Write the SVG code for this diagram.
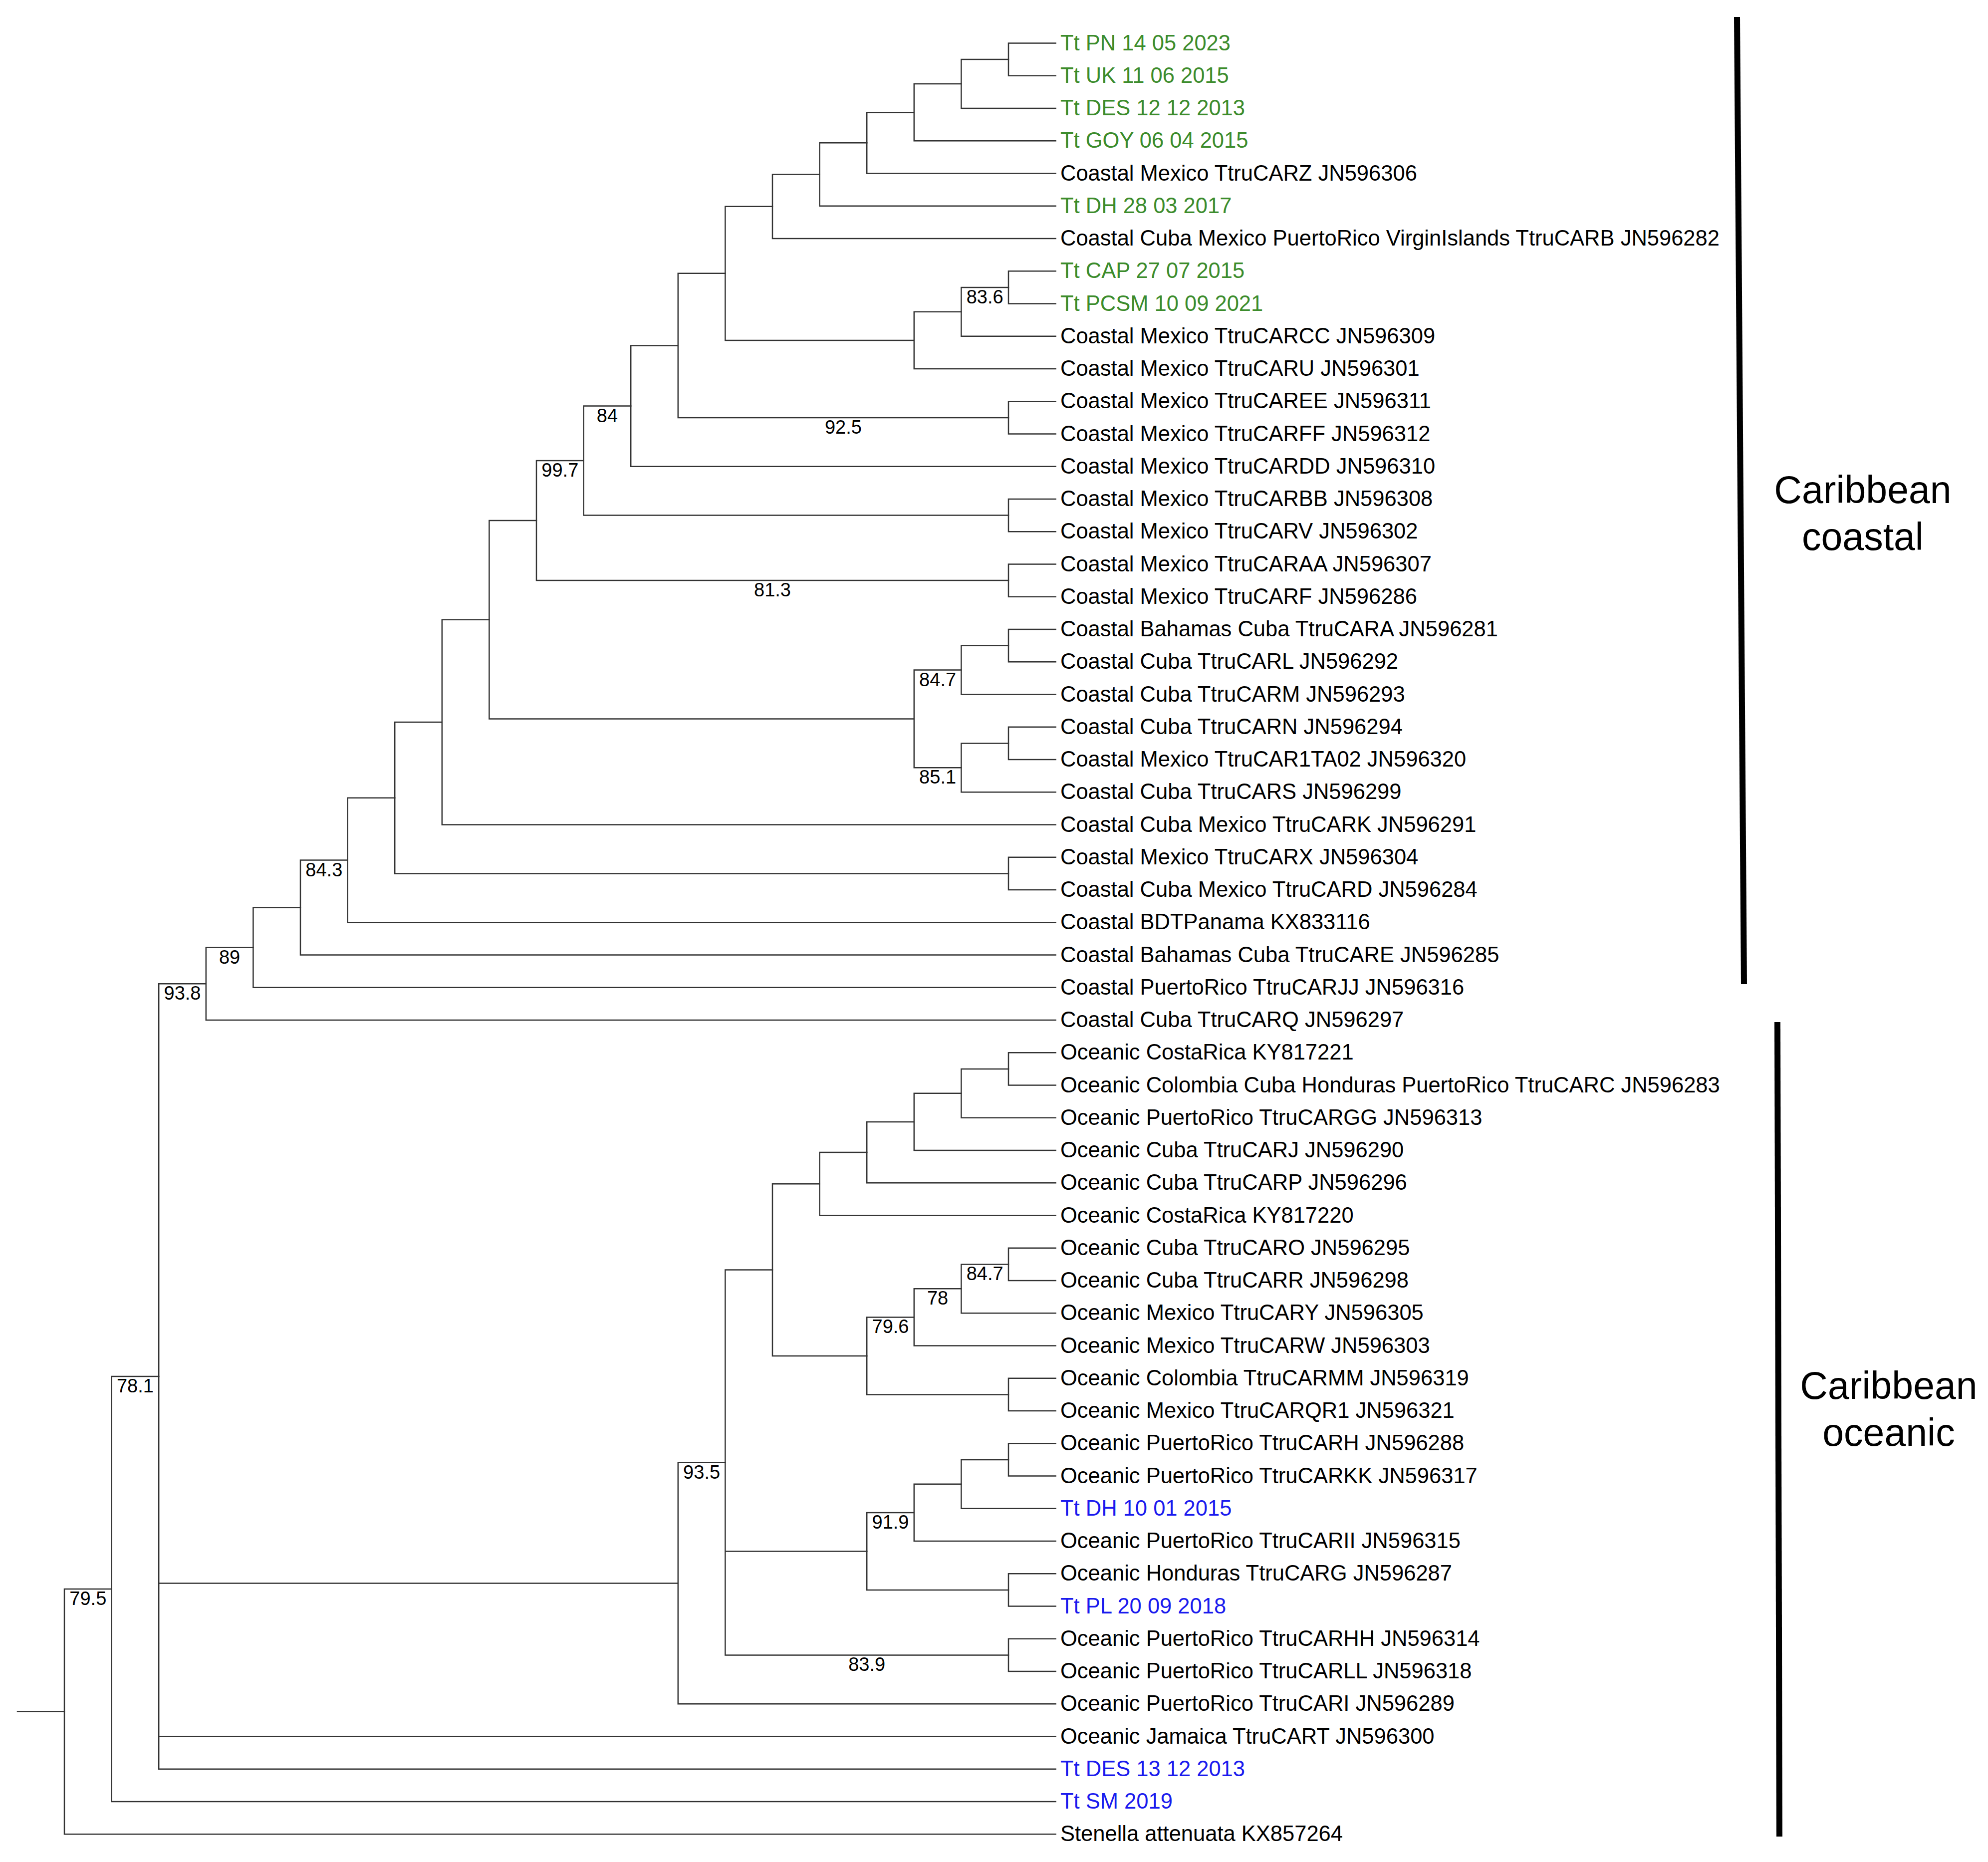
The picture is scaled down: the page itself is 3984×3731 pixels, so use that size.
<svg xmlns="http://www.w3.org/2000/svg" width="3984" height="3731" viewBox="0 0 3984 3731">
<style>
.br{fill:none;stroke:#333;stroke-width:2.5;stroke-linecap:square}
.lf{font-family:"Liberation Sans",Arial,sans-serif;font-size:43.5px;fill:#000}
.g{fill:#3c8c2c}
.b{fill:#1a1aee}
.sp{font-family:"Liberation Sans",Arial,sans-serif;font-size:38px;fill:#000;text-anchor:middle}
.bar{stroke:#000;stroke-width:12;fill:none}
.cl{font-family:"Liberation Sans",Arial,sans-serif;font-size:77px;fill:#000;text-anchor:middle}
</style>
<rect width="3984" height="3731" fill="#fff"/>
<g id="connectors" class="br">
<path id="root" d="M35 3429.6H129"/>
<path id="R3" d="M129 3184V3675.3M129 3184H223.6M129 3675.3H2115.6"/>
<path id="R2" d="M223.6 2758V3610M223.6 2758H318.2M223.6 3610H2115.6"/>
<path id="R1" d="M318.2 1971.3V3544.8M318.2 1971.3H412.8M318.2 3172.4H1358.8M318.2 3479.5H2115.6M318.2 3544.8H2115.6"/>
<path id="C12" d="M412.8 1898.6V2044M412.8 1898.6H507.4M412.8 2044H2115.6"/>
<path id="C11" d="M507.4 1818.5V1978.8M507.4 1818.5H602M507.4 1978.8H2115.6"/>
<path id="C10" d="M602 1723.5V1913.5M602 1723.5H696.6M602 1913.5H2115.6"/>
<path id="C9" d="M696.6 1598.8V1848.3M696.6 1598.8H791.2M696.6 1848.3H2115.6"/>
<path id="C8" d="M791.2 1447.1V1750.4M791.2 1447.1H885.8M791.2 1750.4H2021"/>
<path id="C7" d="M885.8 1241.8V1652.5M885.8 1241.8H980.4M885.8 1652.5H2115.6"/>
<path id="C6" d="M980.4 1043.1V1440.4M980.4 1043.1H1075M980.4 1440.4H1831.8"/>
<path id="C5" d="M1075 923.1V1163.1M1075 923.1H1169.6M1075 1163.1H2021"/>
<path id="C4" d="M1169.6 813.6V1032.6M1169.6 813.6H1264.2M1169.6 1032.6H2021"/>
<path id="C3" d="M1264.2 692.4V934.8M1264.2 692.4H1358.8M1264.2 934.8H2115.6"/>
<path id="C2" d="M1358.8 547.8V836.9M1358.8 547.8H1453.4M1358.8 836.9H2021"/>
<path id="C1" d="M1453.4 413.8V681.9M1453.4 413.8H1548M1453.4 681.9H1831.8"/>
<path id="A6" d="M1548 349.5V478M1548 349.5H1642.6M1548 478H2115.6"/>
<path id="A5" d="M1642.6 286.3V412.8M1642.6 286.3H1737.2M1642.6 412.8H2115.6"/>
<path id="A4" d="M1737.2 225.2V347.5M1737.2 225.2H1831.8M1737.2 347.5H2115.6"/>
<path id="A3" d="M1831.8 168.1V282.3M1831.8 168.1H1926.4M1831.8 282.3H2115.6"/>
<path id="A2" d="M1926.4 119.1V217M1926.4 119.1H2021M1926.4 217H2115.6"/>
<path id="A1" d="M2021 86.5V151.8M2021 86.5H2115.6M2021 151.8H2115.6"/>
<path id="B3" d="M1831.8 624.8V739M1831.8 624.8H1926.4M1831.8 739H2115.6"/>
<path id="B2" d="M1926.4 575.9V673.8M1926.4 575.9H2021M1926.4 673.8H2115.6"/>
<path id="B1" d="M2021 543.3V608.5M2021 543.3H2115.6M2021 608.5H2115.6"/>
<path id="D1" d="M2021 804.3V869.5M2021 804.3H2115.6M2021 869.5H2115.6"/>
<path id="E1" d="M2021 1000V1065.3M2021 1000H2115.6M2021 1065.3H2115.6"/>
<path id="F1" d="M2021 1130.5V1195.8M2021 1130.5H2115.6M2021 1195.8H2115.6"/>
<path id="G3" d="M1831.8 1342.6V1538.3M1831.8 1342.6H1926.4M1831.8 1538.3H1926.4"/>
<path id="G2" d="M1926.4 1293.6V1391.5M1926.4 1293.6H2021M1926.4 1391.5H2115.6"/>
<path id="G1" d="M2021 1261V1326.3M2021 1261H2115.6M2021 1326.3H2115.6"/>
<path id="H2" d="M1926.4 1489.4V1587.3M1926.4 1489.4H2021M1926.4 1587.3H2115.6"/>
<path id="H1" d="M2021 1456.8V1522M2021 1456.8H2115.6M2021 1522H2115.6"/>
<path id="I1" d="M2021 1717.8V1783M2021 1717.8H2115.6M2021 1783H2115.6"/>
<path id="O" d="M1358.8 2930.5V3414.3M1358.8 2930.5H1453.4M1358.8 3414.3H2115.6"/>
<path id="P" d="M1453.4 2544.6V3316.4M1453.4 2544.6H1548M1453.4 3108.4H1737.2M1453.4 3316.4H2021"/>
<path id="Q" d="M1548 2372.3V2716.9M1548 2372.3H1642.6M1548 2716.9H1737.2"/>
<path id="Q1" d="M1642.6 2309.1V2435.5M1642.6 2309.1H1737.2M1642.6 2435.5H2115.6"/>
<path id="Q1a" d="M1737.2 2247.9V2370.3M1737.2 2247.9H1831.8M1737.2 2370.3H2115.6"/>
<path id="Q1b" d="M1831.8 2190.8V2305M1831.8 2190.8H1926.4M1831.8 2305H2115.6"/>
<path id="Q1c" d="M1926.4 2141.9V2239.8M1926.4 2141.9H2021M1926.4 2239.8H2115.6"/>
<path id="Q1d" d="M2021 2109.3V2174.5M2021 2109.3H2115.6M2021 2174.5H2115.6"/>
<path id="Q2" d="M1737.2 2639.4V2794.4M1737.2 2639.4H1831.8M1737.2 2794.4H2021"/>
<path id="Q2a" d="M1831.8 2582.3V2696.5M1831.8 2582.3H1926.4M1831.8 2696.5H2115.6"/>
<path id="Q2a1" d="M1926.4 2533.4V2631.3M1926.4 2533.4H2021M1926.4 2631.3H2115.6"/>
<path id="X1" d="M2021 2500.8V2566M2021 2500.8H2115.6M2021 2566H2115.6"/>
<path id="X2" d="M2021 2761.8V2827M2021 2761.8H2115.6M2021 2827H2115.6"/>
<path id="S" d="M1737.2 3030.9V3185.9M1737.2 3030.9H1831.8M1737.2 3185.9H2021"/>
<path id="S1" d="M1831.8 2973.8V3088M1831.8 2973.8H1926.4M1831.8 3088H2115.6"/>
<path id="S1a" d="M1926.4 2924.9V3022.8M1926.4 2924.9H2021M1926.4 3022.8H2115.6"/>
<path id="X3" d="M2021 2892.3V2957.5M2021 2892.3H2115.6M2021 2957.5H2115.6"/>
<path id="X4" d="M2021 3153.3V3218.5M2021 3153.3H2115.6M2021 3218.5H2115.6"/>
<path id="T" d="M2021 3283.8V3349M2021 3283.8H2115.6M2021 3349H2115.6"/>
</g>
<g id="support-labels">
<g id="n-B1"><text class="sp" x="1973.7" y="607.9">83.6</text></g>
<g id="n-D1"><text class="sp" x="1689.9" y="868.9">92.5</text></g>
<g id="n-C3"><text class="sp" x="1216.9" y="845.6">84</text></g>
<g id="n-C4"><text class="sp" x="1122.3" y="955.1">99.7</text></g>
<g id="n-F1"><text class="sp" x="1548" y="1195.1">81.3</text></g>
<g id="n-G2"><text class="sp" x="1879.1" y="1374.6">84.7</text></g>
<g id="n-H2"><text class="sp" x="1879.1" y="1570.3">85.1</text></g>
<g id="n-C9"><text class="sp" x="649.3" y="1755.5">84.3</text></g>
<g id="n-C11"><text class="sp" x="460.1" y="1930.6">89</text></g>
<g id="n-C12"><text class="sp" x="365.5" y="2003.3">93.8</text></g>
<g id="n-R1"><text class="sp" x="270.9" y="2790">78.1</text></g>
<g id="n-R2"><text class="sp" x="176.3" y="3216">79.5</text></g>
<g id="n-P"><text class="sp" x="1406.1" y="2962.5">93.5</text></g>
<g id="n-Q2a"><text class="sp" x="1784.5" y="2671.4">79.6</text></g>
<g id="n-Q2a1"><text class="sp" x="1879.1" y="2614.3">78</text></g>
<g id="n-X1"><text class="sp" x="1973.7" y="2565.4">84.7</text></g>
<g id="n-S1"><text class="sp" x="1784.5" y="3062.9">91.9</text></g>
<g id="n-T"><text class="sp" x="1737.2" y="3348.4">83.9</text></g>
</g>
<g id="leaves">
<g id="leaf0"><text class="lf g" x="2125" y="100.5">Tt PN 14 05 2023</text></g>
<g id="leaf1"><text class="lf g" x="2125" y="165.75">Tt UK 11 06 2015</text></g>
<g id="leaf2"><text class="lf g" x="2125" y="231">Tt DES 12 12 2013</text></g>
<g id="leaf3"><text class="lf g" x="2125" y="296.25">Tt GOY 06 04 2015</text></g>
<g id="leaf4"><text class="lf" x="2125" y="361.5">Coastal Mexico TtruCARZ JN596306</text></g>
<g id="leaf5"><text class="lf g" x="2125" y="426.75">Tt DH 28 03 2017</text></g>
<g id="leaf6"><text class="lf" x="2125" y="492">Coastal Cuba Mexico PuertoRico VirginIslands TtruCARB JN596282</text></g>
<g id="leaf7"><text class="lf g" x="2125" y="557.25">Tt CAP 27 07 2015</text></g>
<g id="leaf8"><text class="lf g" x="2125" y="622.5">Tt PCSM 10 09 2021</text></g>
<g id="leaf9"><text class="lf" x="2125" y="687.75">Coastal Mexico TtruCARCC JN596309</text></g>
<g id="leaf10"><text class="lf" x="2125" y="753">Coastal Mexico TtruCARU JN596301</text></g>
<g id="leaf11"><text class="lf" x="2125" y="818.25">Coastal Mexico TtruCAREE JN596311</text></g>
<g id="leaf12"><text class="lf" x="2125" y="883.5">Coastal Mexico TtruCARFF JN596312</text></g>
<g id="leaf13"><text class="lf" x="2125" y="948.75">Coastal Mexico TtruCARDD JN596310</text></g>
<g id="leaf14"><text class="lf" x="2125" y="1014">Coastal Mexico TtruCARBB JN596308</text></g>
<g id="leaf15"><text class="lf" x="2125" y="1079.25">Coastal Mexico TtruCARV JN596302</text></g>
<g id="leaf16"><text class="lf" x="2125" y="1144.5">Coastal Mexico TtruCARAA JN596307</text></g>
<g id="leaf17"><text class="lf" x="2125" y="1209.75">Coastal Mexico TtruCARF JN596286</text></g>
<g id="leaf18"><text class="lf" x="2125" y="1275">Coastal Bahamas Cuba TtruCARA JN596281</text></g>
<g id="leaf19"><text class="lf" x="2125" y="1340.25">Coastal Cuba TtruCARL JN596292</text></g>
<g id="leaf20"><text class="lf" x="2125" y="1405.5">Coastal Cuba TtruCARM JN596293</text></g>
<g id="leaf21"><text class="lf" x="2125" y="1470.75">Coastal Cuba TtruCARN JN596294</text></g>
<g id="leaf22"><text class="lf" x="2125" y="1536">Coastal Mexico TtruCAR1TA02 JN596320</text></g>
<g id="leaf23"><text class="lf" x="2125" y="1601.25">Coastal Cuba TtruCARS JN596299</text></g>
<g id="leaf24"><text class="lf" x="2125" y="1666.5">Coastal Cuba Mexico TtruCARK JN596291</text></g>
<g id="leaf25"><text class="lf" x="2125" y="1731.75">Coastal Mexico TtruCARX JN596304</text></g>
<g id="leaf26"><text class="lf" x="2125" y="1797">Coastal Cuba Mexico TtruCARD JN596284</text></g>
<g id="leaf27"><text class="lf" x="2125" y="1862.25">Coastal BDTPanama KX833116</text></g>
<g id="leaf28"><text class="lf" x="2125" y="1927.5">Coastal Bahamas Cuba TtruCARE JN596285</text></g>
<g id="leaf29"><text class="lf" x="2125" y="1992.75">Coastal PuertoRico TtruCARJJ JN596316</text></g>
<g id="leaf30"><text class="lf" x="2125" y="2058">Coastal Cuba TtruCARQ JN596297</text></g>
<g id="leaf31"><text class="lf" x="2125" y="2123.25">Oceanic CostaRica KY817221</text></g>
<g id="leaf32"><text class="lf" x="2125" y="2188.5">Oceanic Colombia Cuba Honduras PuertoRico TtruCARC JN596283</text></g>
<g id="leaf33"><text class="lf" x="2125" y="2253.75">Oceanic PuertoRico TtruCARGG JN596313</text></g>
<g id="leaf34"><text class="lf" x="2125" y="2319">Oceanic Cuba TtruCARJ JN596290</text></g>
<g id="leaf35"><text class="lf" x="2125" y="2384.25">Oceanic Cuba TtruCARP JN596296</text></g>
<g id="leaf36"><text class="lf" x="2125" y="2449.5">Oceanic CostaRica KY817220</text></g>
<g id="leaf37"><text class="lf" x="2125" y="2514.75">Oceanic Cuba TtruCARO JN596295</text></g>
<g id="leaf38"><text class="lf" x="2125" y="2580">Oceanic Cuba TtruCARR JN596298</text></g>
<g id="leaf39"><text class="lf" x="2125" y="2645.25">Oceanic Mexico TtruCARY JN596305</text></g>
<g id="leaf40"><text class="lf" x="2125" y="2710.5">Oceanic Mexico TtruCARW JN596303</text></g>
<g id="leaf41"><text class="lf" x="2125" y="2775.75">Oceanic Colombia TtruCARMM JN596319</text></g>
<g id="leaf42"><text class="lf" x="2125" y="2841">Oceanic Mexico TtruCARQR1 JN596321</text></g>
<g id="leaf43"><text class="lf" x="2125" y="2906.25">Oceanic PuertoRico TtruCARH JN596288</text></g>
<g id="leaf44"><text class="lf" x="2125" y="2971.5">Oceanic PuertoRico TtruCARKK JN596317</text></g>
<g id="leaf45"><text class="lf b" x="2125" y="3036.75">Tt DH 10 01 2015</text></g>
<g id="leaf46"><text class="lf" x="2125" y="3102">Oceanic PuertoRico TtruCARII JN596315</text></g>
<g id="leaf47"><text class="lf" x="2125" y="3167.25">Oceanic Honduras TtruCARG JN596287</text></g>
<g id="leaf48"><text class="lf b" x="2125" y="3232.5">Tt PL 20 09 2018</text></g>
<g id="leaf49"><text class="lf" x="2125" y="3297.75">Oceanic PuertoRico TtruCARHH JN596314</text></g>
<g id="leaf50"><text class="lf" x="2125" y="3363">Oceanic PuertoRico TtruCARLL JN596318</text></g>
<g id="leaf51"><text class="lf" x="2125" y="3428.25">Oceanic PuertoRico TtruCARI JN596289</text></g>
<g id="leaf52"><text class="lf" x="2125" y="3493.5">Oceanic Jamaica TtruCART JN596300</text></g>
<g id="leaf53"><text class="lf b" x="2125" y="3558.75">Tt DES 13 12 2013</text></g>
<g id="leaf54"><text class="lf b" x="2125" y="3624">Tt SM 2019</text></g>
<g id="leaf55"><text class="lf" x="2125" y="3689.25">Stenella attenuata KX857264</text></g>
</g>
<g id="clade-coastal">
<line class="bar" x1="3481" y1="34" x2="3495" y2="1972"/>
<text class="cl" x="3733" y="1008">Caribbean</text>
<text class="cl" x="3733" y="1102">coastal</text>
</g>
<g id="clade-oceanic">
<line class="bar" x1="3562" y1="2048" x2="3566" y2="3680"/>
<text class="cl" x="3785" y="2803">Caribbean</text>
<text class="cl" x="3785" y="2897">oceanic</text>
</g>
</svg>
